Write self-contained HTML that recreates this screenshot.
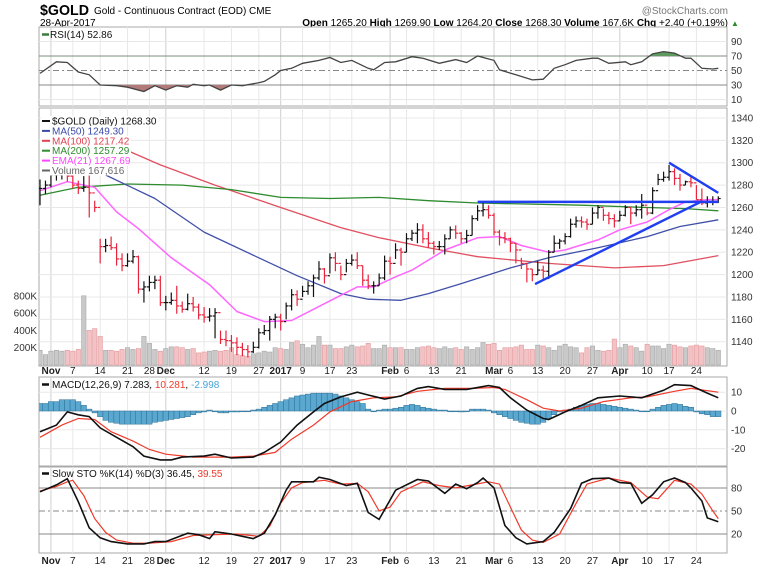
<!DOCTYPE html>
<html><head><meta charset="utf-8"><style>
html,body{margin:0;padding:0;background:#fff;}
svg{display:block;font-family:"Liberation Sans",sans-serif;}
</style></head><body>
<svg id="chart" width="765" height="570" viewBox="0 0 765 570" xmlns="http://www.w3.org/2000/svg">
<defs>
<clipPath id="cpRsi"><rect x="39" y="27" width="688" height="79"/></clipPath>
<clipPath id="cpMain"><rect x="39" y="108" width="688" height="258"/></clipPath>
<clipPath id="cpMacd"><rect x="39" y="377" width="688" height="89"/></clipPath>
<clipPath id="cpSto"><rect x="39" y="467" width="688" height="86"/></clipPath>
<clipPath id="cpAbove70"><rect x="39" y="27" width="688" height="29.25"/></clipPath>
<clipPath id="cpBelow30"><rect x="39" y="85" width="688" height="21"/></clipPath>
</defs>
<g id="header">
<text x="40" y="15" font-size="15" font-weight="bold" textLength="49" lengthAdjust="spacingAndGlyphs">$GOLD</text>
<text x="94" y="14" font-size="10">Gold - Continuous Contract (EOD) CME</text>
<text x="728" y="14" font-size="10" fill="#777" text-anchor="end">@StockCharts.com</text>
<text x="40" y="26" font-size="10">28-Apr-2017</text>
<text x="728" y="26" font-size="10" text-anchor="end"><tspan font-weight="bold">Open</tspan> 1265.20 <tspan font-weight="bold">High</tspan> 1269.90 <tspan font-weight="bold">Low</tspan> 1264.20 <tspan font-weight="bold">Close</tspan> 1268.30 <tspan font-weight="bold">Volume</tspan> 167.6K <tspan font-weight="bold">Chg</tspan> +2.40 (+0.19%)</text>
<text x="731" y="26" font-size="8" fill="#2a8a2a">▲</text>
</g>
<g id="layer"></g>
</svg>
<script>
// ---- data ----
const tickIdx = [2,6,11,16,20,23,30,35,40,44,48,53,57,64,67,72,77,83,86,91,96,101,106,111,115,120];
const tickLabels = ["Nov","7","14","21","28","Dec","12","19","27","2017","9","17","23","Feb","6","13","21","Mar","6","13","20","27","Apr","10","17","24"];
const tickBold = [1,0,0,0,0,1,0,0,0,1,0,0,0,1,0,0,0,1,0,0,0,0,1,0,0,0];
const closes = [1277,1280,1289,1289,1290,1288,1280,1277,1278,1273,1260,1225,1226,1224,1214,1208,1212,1216,1187,1189,1193,1195,1175,1175,1177,1172,1169,1174,1171,1164,1162,1163,1166,1142,1141,1139,1135,1133,1131,1135,1148,1150,1160,1162,1158,1172,1182,1178,1185,1190,1197,1205,1199,1215,1210,1200,1210,1213,1208,1195,1190,1190,1197,1212,1210,1222,1220,1232,1237,1240,1232,1228,1225,1225,1232,1240,1237,1232,1235,1250,1257,1258,1253,1238,1233,1232,1228,1222,1210,1205,1200,1204,1203,1220,1228,1230,1234,1245,1248,1247,1245,1255,1260,1253,1250,1248,1253,1260,1255,1258,1262,1255,1275,1285,1287,1292,1286,1280,1283,1282,1267,1264,1265,1265,1268];
const highs = [1285,1284,1292,1293,1294,1292,1290,1284,1288,1289,1266,1232,1232,1234,1228,1219,1219,1222,1217,1194,1199,1199,1199,1181,1184,1190,1176,1183,1180,1174,1171,1170,1170,1150,1150,1146,1144,1139,1137,1140,1152,1155,1163,1165,1165,1175,1187,1186,1190,1194,1200,1212,1206,1219,1220,1208,1214,1218,1220,1208,1200,1194,1201,1217,1216,1228,1224,1237,1240,1246,1245,1238,1230,1230,1236,1243,1244,1238,1240,1253,1262,1265,1262,1255,1240,1238,1233,1228,1215,1210,1205,1212,1208,1222,1235,1232,1237,1250,1252,1252,1250,1260,1262,1259,1256,1254,1257,1262,1260,1262,1272,1260,1278,1290,1292,1298,1295,1290,1284,1288,1280,1277,1270,1270,1270];
const lows = [1262,1272,1278,1284,1285,1283,1277,1272,1274,1251,1256,1210,1220,1222,1208,1203,1207,1210,1183,1175,1185,1187,1172,1168,1173,1165,1166,1168,1167,1160,1157,1158,1143,1138,1136,1131,1128,1127,1126,1130,1134,1146,1141,1152,1150,1160,1168,1172,1180,1182,1180,1195,1192,1201,1203,1195,1202,1208,1205,1190,1187,1183,1190,1195,1200,1214,1208,1220,1230,1228,1228,1224,1218,1222,1218,1232,1232,1228,1228,1235,1248,1252,1250,1235,1226,1228,1220,1210,1205,1193,1194,1200,1196,1196,1220,1223,1227,1233,1242,1242,1240,1245,1250,1248,1245,1242,1248,1252,1245,1252,1250,1253,1254,1280,1283,1284,1280,1275,1280,1278,1267,1262,1260,1262,1264];
const volumes = [170,120,160,170,160,170,160,180,800,400,420,330,170,170,160,180,200,180,190,330,250,180,160,190,210,210,200,180,190,140,150,160,170,160,170,200,120,110,100,130,140,160,150,200,190,180,260,280,240,200,230,330,230,230,190,190,210,230,210,220,250,190,190,230,200,200,200,180,180,200,210,220,200,190,210,190,200,180,210,180,200,260,240,250,170,200,200,210,230,180,180,230,220,200,170,220,240,210,200,140,200,220,170,160,170,300,200,240,220,200,160,240,220,220,190,240,230,210,200,220,230,220,200,190,170];
const ema21Idx = [0,5,10,14,18,24,31,36,41,46,52,58,61,65,68,74,80,84,88,93,96,102,106,111,115,118,122,124];
const ema21Val = [1275,1283,1278,1256,1241,1215,1191,1167,1158,1159,1174,1189,1189,1198,1204,1222,1233,1234,1226,1220,1222,1231,1240,1247,1258,1265,1267,1267];
const ma50Idx = [12,21,30,40,47,55,60,66,71,77,86,93,102,111,117,124];
const ma50Val = [1289,1268,1238,1215,1199,1183,1178,1177,1183,1192,1206,1215,1224,1234,1243,1249];
const ma100Idx = [10,15,22,32,41,44,55,62,71,80,93,105,114,124];
const ma100Val = [1318,1313,1298,1280,1265,1260,1242,1233,1224,1216,1210,1206,1208,1217];
const ma200Idx = [0,7,16,26,35,44,53,62,71,80,99,111,118,124];
const ma200Val = [1271,1278,1281,1280,1276,1269,1268,1269,1266,1264,1262,1260,1259,1257];
const rsiIdx = [0,3,5,7,9,11,14,16,19,21,23,25,27,28,30,31,33,35,37,40,41,43,44,46,48,51,53,55,57,60,61,63,65,68,70,73,76,78,80,83,84,87,90,92,94,96,98,101,102,104,107,108,110,112,114,116,118,119,121,123,124];
const rsiVal = [46,62,61,48,44,30,29,27,21,29,23,29,27,31,29,30,23,30,29,33,35,44,50,53,60,64,68,61,64,53,51,61,62,69,67,60,65,61,70,64,51,44,37,38,53,58,64,67,67,60,62,58,62,73,76,74,67,67,53,52,53];
const macdIdx = [0,3,5,7,9,11,14,17,19,22,24,26,30,32,35,39,41,44,47,50,52,55,58,60,63,66,69,71,74,78,82,84,86,89,92,93,96,99,102,106,110,114,116,119,122,124];
const macdVal = [-11,-7.5,-0.5,-2,-3,-9,-14,-19,-24,-26,-26,-24.5,-24,-23,-25,-24.5,-22,-16.5,-7.5,-0.5,4,7.5,10,8.5,6.4,8,12,13,11.5,11.5,13.5,12.5,7,0.5,-4,-4.5,-0.5,3,7,8,7,11,14,13.5,9.5,7];
const signalIdx = [0,4,7,10,13,17,20,23,28,35,39,43,46,50,53,57,61,65,69,74,79,83,85,89,92,95,99,103,108,111,116,119,124];
const signalVal = [-14,-7.5,-4,-4.5,-11,-16,-20.5,-23,-24.5,-24.5,-24,-22,-15,-7.5,-0.5,5,7,7.5,10.5,12,12,12.5,11.5,6,1.5,0,1.5,5,7,7.5,10.5,12,10];
const histVal = [4,4,5,5,6,6,6,5,3,1,-1,-3,-5,-6,-6.5,-7,-7,-7,-7,-7,-7,-6,-5.5,-5,-4.5,-4,-3.5,-3,-2,-1,-0.5,0.5,0,-1,-1,-0.5,-0.5,0,0,0.5,1,2,3,4,5,6,7,8,8.5,9,9.5,9.5,9.5,9.5,9,8,7,6,5,4,1,0,0.5,1,1,1.5,2,3,3.5,3,2,1.5,1,0.5,0.5,0,0,-0.5,0,1,1,1,0.5,-1,-2,-3,-4,-5,-6,-6.5,-7,-7,-6,-4,-2,-0.5,0.5,1,2,3,3.5,4,4,3.5,3,2.5,2,1.5,1,0.5,0,0,1,2,3,3.5,4,3.5,2.5,2,-0.5,-1.5,-2,-3,-3];
const stoKIdx = [0,3,5,7,9,11,13,16,19,21,23,27,29,31,32,35,37,39,41,43,45,46,50,51,53,56,58,60,62,65,69,71,74,76,78,80,81,83,85,87,89,92,94,97,99,101,104,106,108,110,112,114,116,118,119,121,122,124];
const stoKVal = [75,84,92,62,28,15,10,7,7,10,10,21,19,14,23,20,17,14,21,45,77,88,88,94,91,83,86,48,39,77,91,89,73,85,79,87,93,80,31,15,7,10,22,53,86,92,93,87,86,60,71,88,93,87,80,63,41,36];
const stoDIdx = [0,3,5,6,8,10,12,14,17,20,24,28,32,36,40,42,44,46,48,52,55,58,60,62,64,66,70,73,76,79,82,84,86,88,90,92,95,98,100,104,108,111,113,116,119,121,123,124];
const stoDVal = [76,82,88,90,70,40,22,12,8,8,10,18,19,20,17,30,60,80,87,90,85,86,75,50,55,75,88,83,80,84,88,85,55,25,12,9,20,60,85,93,87,68,66,90,85,72,50,40];
const trendStartIdx = [80,90.5,115];
const trendStartVal = [1265,1191.5,1300];
const trendEndIdx = [124,121,124];
const trendEndVal = [1265,1265.5,1273];

// ---- scales ----
const L=39, R=727;
const X = i => 40 + 5.47*i;
const Yp = p => 162.7 + (1300-p)*1.119;
const Yr = v => 85 - (v-30)*0.725;
const Yv = v => 365 - v*17.3/200;
const Ym = v => 411 - v*1.88;
const Ys = v => 549.3 - v*0.767;

const NS="http://www.w3.org/2000/svg";
const layer=document.getElementById('layer');
function mk(tag, attrs, parent){const e=document.createElementNS(NS,tag);for(const k in attrs)e.setAttribute(k,attrs[k]);(parent||layer).appendChild(e);return e;}
function pts(idx,val,fy){return idx.map((i,k)=>X(i).toFixed(1)+','+fy(val[k]).toFixed(1)).join(' ');}

// ---- panes ----
const panes=[["rsi-pane",27,79],["price-pane",108,258],["macd-pane",377,89],["sto-pane",467,86]];
panes.forEach(p=>{
  const r=mk('rect',{x:L,y:p[1],width:R-L,height:p[2],fill:'#fff',stroke:'#aaa','stroke-width':1});
  
  
});
panes.forEach(p=>{
  tickIdx.forEach((ti,k)=>{
    const g=mk('line',{x1:X(ti),x2:X(ti),y1:p[1],y2:p[1]+p[2],stroke:tickBold[k]?'#d0d0d0':'#e8e8e8','stroke-width':1});
    
    
  });
});
function hgrid(y,label,name,strong,dash){
  const g=mk('line',{x1:L,x2:R,y1:y,y2:y,stroke:strong?'#888':'#e8e8e8','stroke-width':1});
  if(dash) g.setAttribute('stroke-dasharray','6,3,2,3');
  
  
  if(label!==null){
    const t=mk('text',{x:R+4,y:y+3.5,'font-size':10,fill:'#333'});
    t.textContent=label;
    
    
  }
}
[90,10].forEach(v=>hgrid(Yr(v),String(v),'rsi',false));
hgrid(Yr(70),'70','rsi',true); hgrid(Yr(30),'30','rsi',true); hgrid(Yr(50),'50','rsi',true,true);
for(let p=1140;p<=1340;p+=20) hgrid(Yp(p),String(p),'price',false);
[10,0,-10,-20].forEach(v=>hgrid(Ym(v),String(v),'macd',false));
hgrid(Ys(80),'80','sto',true); hgrid(Ys(20),'20','sto',true); hgrid(Ys(50),'50','sto',true,true);
[200,400,600,800].forEach(v=>{
  const t=mk('text',{x:37,y:Yv(v)+3.5,'font-size':10,fill:'#333','text-anchor':'end'});
  t.textContent=v+'K';
  
  
});
[374,564].forEach(yy=>{
  tickIdx.forEach((ti,k)=>{
    const t=mk('text',{x:X(ti),y:yy,'font-size':10,'text-anchor':'middle','font-weight':tickBold[k]?'bold':'normal',fill:'#222'});
    t.textContent=tickLabels[k];
    
    
  });
});

// ---- RSI ----
const gR=mk('g',{'clip-path':'url(#cpRsi)'});
const rsiLine=pts(rsiIdx,rsiVal,Yr);
const fUp=mk('polygon',{points:X(rsiIdx[0])+','+Yr(70)+' '+rsiLine+' '+X(rsiIdx[rsiIdx.length-1])+','+Yr(70),fill:'#5f9a5f','clip-path':'url(#cpAbove70)'},gR);


const fDn=mk('polygon',{points:X(rsiIdx[0])+','+Yr(30)+' '+rsiLine+' '+X(rsiIdx[rsiIdx.length-1])+','+Yr(30),fill:'#b37a7a','clip-path':'url(#cpBelow30)'},gR);


const rl=mk('polyline',{points:rsiLine,fill:'none',stroke:'#444','stroke-width':1.3},gR);



// ---- main ----
const gM=mk('g',{'clip-path':'url(#cpMain)'});
volumes.forEach((v,i)=>{
  const down = i>0 && closes[i]<closes[i-1];
  const b=mk('rect',{x:X(i)-2.2,y:Yv(v),width:4.4,height:365-Yv(v),fill:down?'#f2c2c4':'#c9c9c9',stroke:down?'#e29a9e':'#a8a8a8','stroke-width':0.6},gM);
  
  
});
function mline(idx,val,color,name,w){
  const l=mk('polyline',{points:pts(idx,val,Yp),fill:'none',stroke:color,'stroke-width':w||1.3,'stroke-linejoin':'round'},gM);
  
  
}
mline(ma100Idx,ma100Val,'#e05060','ma100-line');
mline(ma200Idx,ma200Val,'#2e8b2e','ma200-line');
mline(ma50Idx,ma50Val,'#4050a8','ma50-line');
mline(ema21Idx,ema21Val,'#ff66ff','ema21-line',1.5);
closes.forEach((c,i)=>{
  const down = i>0 && c<closes[i-1];
  const col = down?'#e8243c':'#111';
  const g=mk('g',{},gM);
  
  
  mk('line',{x1:X(i),x2:X(i),y1:Yp(highs[i]),y2:Yp(lows[i]),stroke:col,'stroke-width':1.2},g);
  mk('line',{x1:X(i),x2:X(i)+2.4,y1:Yp(c),y2:Yp(c),stroke:col,'stroke-width':1.2},g);
  const o = i>0?closes[i-1]:c;
  mk('line',{x1:X(i)-2.4,x2:X(i),y1:Yp(o),y2:Yp(o),stroke:col,'stroke-width':1.2},g);
});
trendStartIdx.forEach((s,k)=>{
  const l=mk('line',{x1:X(s),y1:Yp(trendStartVal[k]),x2:X(trendEndIdx[k]),y2:Yp(trendEndVal[k]),stroke:'#1f3ff0','stroke-width':2.4},gM);
  
  
});
// legend
const leg=[["$GOLD (Daily) 1268.30","#111","price",105],["MA(50) 1249.30","#3a4aa8","ma50",73],["MA(100) 1217.42","#e04050","ma100",78],["MA(200) 1257.29","#2e8b2e","ma200",78],["EMA(21) 1267.69","#ff44ff","ema21",76],["Volume 167,616","#666","volume",72]];
leg.forEach((e,k)=>{
  const y=121+k*9.9;
  const bg=mk('rect',{x:41,y:y-5,width:e[3]+12,height:10,fill:'#fff'});
  
  
  const t=mk('text',{x:52,y:y+3.5,'font-size':10,fill:e[1]});
  t.textContent=e[0];
  
  
  const s=mk('line',{x1:42,x2:50,y1:y,y2:y,stroke:e[1],'stroke-width':2});
  
  
});

// ---- MACD ----
const gD=mk('g',{'clip-path':'url(#cpMacd)'});
histVal.forEach((v,i)=>{
  const y0=Ym(0), y1=Ym(v);
  const b=mk('rect',{x:X(i)-2.7,y:Math.min(y0,y1),width:5.4,height:Math.max(0.8,Math.abs(y1-y0)),fill:'#5aa8d0',stroke:'#2c6f95','stroke-width':0.5},gD);
  
  
});
const sl=mk('polyline',{points:pts(signalIdx,signalVal,Ym),fill:'none',stroke:'#f03a2a','stroke-width':1.2},gD);


const ml=mk('polyline',{points:pts(macdIdx,macdVal,Ym),fill:'none',stroke:'#111','stroke-width':1.6},gD);



// ---- STO ----
const gS=mk('g',{'clip-path':'url(#cpSto)'});
const dl=mk('polyline',{points:pts(stoDIdx,stoDVal,Ys),fill:'none',stroke:'#f03a2a','stroke-width':1.2},gS);


const kl=mk('polyline',{points:pts(stoKIdx,stoKVal,Ys),fill:'none',stroke:'#111','stroke-width':1.6},gS);



function ptitle(x,y,html,name){
  const t=mk('text',{x:x,y:y,'font-size':10,fill:'#111'});
  t.innerHTML=html;
  
  
}
ptitle(50,38,'RSI(14) 52.86','rsi-legend');
ptitle(52,388,'MACD(12,26,9) 7.283, <tspan fill="#f03a2a">10.281</tspan>, <tspan fill="#45a5d8">-2.998</tspan>','macd-legend');
ptitle(52,477,'Slow STO %K(14) %D(3) 36.45, <tspan fill="#f03a2a">39.55</tspan>','sto-legend');
[[42,34.5,'#3a7a3a'],[42,384.5,'#111'],[42,473.5,'#111']].forEach(s=>{
  const l=mk('line',{x1:s[0],x2:s[0]+7,y1:s[1],y2:s[1],stroke:s[2],'stroke-width':2.5});
  
  
});
</script>
</body></html>
